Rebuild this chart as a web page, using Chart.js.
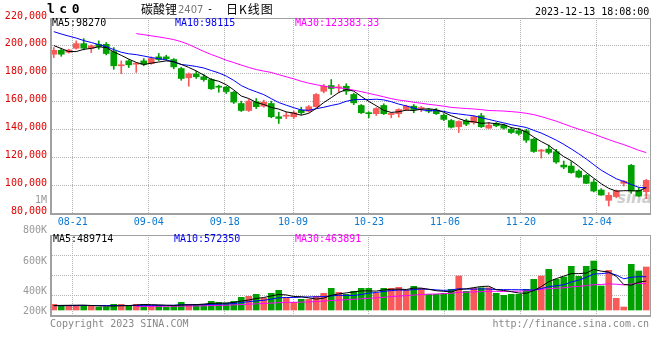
<!DOCTYPE html>
<html>
<head>
<meta charset="utf-8">
<script src="https://cdn.jsdelivr.net/npm/chart.js@4.4.0/dist/chart.umd.min.js"></script>
<style>
body { margin: 0; background: #fff; }
#wrap { position: relative; width: 660px; height: 360px; overflow: hidden; font-family: "DejaVu Sans Mono", monospace; font-size: 10px; }
canvas { position: absolute; left: 0; top: 0; }
.t { position: absolute; white-space: pre; line-height: 12px; }
.cjk { font-family: "Noto Sans CJK SC", sans-serif; font-size: 12px; line-height: 14px; }
.gray { color: #999; }
</style>
</head>
<body>
<div id="wrap">
  <div class="t" style="left:617px;top:189px;font:italic bold 15px 'DejaVu Sans',sans-serif;color:#cfcfcf">sina</div>
  <canvas id="kline" width="660" height="360"></canvas>
  <canvas id="vol" width="660" height="360"></canvas>

  <div class="t" style="left:47px;top:2px;font-size:13px;font-weight:bold;letter-spacing:4.5px;line-height:14px">lc0</div>
  <div class="t cjk" style="left:141px;top:2px">碳酸锂</div>
  <div class="t" style="left:178px;top:4px;color:#777;font-family:'DejaVu Sans',sans-serif;font-size:10px">2407</div>
  <div class="t" style="left:207px;top:3px">-</div>
  <div class="t cjk" style="left:226px;top:2px;letter-spacing:1px">日K线图</div>
  <div class="t" style="left:535px;top:6px">2023-12-13 18:08:00</div>

  <div class="t" style="left:52px;top:17px">MA5:98270</div>
  <div class="t" style="left:175px;top:17px;color:#0000ee">MA10:98115</div>
  <div class="t" style="left:295px;top:17px;color:#ff00ff">MA30:123383.33</div>
  <div class="t gray" style="right:613px;top:194px">1M</div>

  <div class="t gray" style="right:613px;top:224px">800K</div>
  <div class="t gray" style="right:613px;top:255px">600K</div>
  <div class="t gray" style="right:613px;top:285px">400K</div>
  <div class="t gray" style="right:613px;top:305px">200K</div>
  <div class="t" style="left:53px;top:233px">MA5:489714</div>
  <div class="t" style="left:174px;top:233px;color:#0000ee">MA10:572350</div>
  <div class="t" style="left:295px;top:233px;color:#ff00ff">MA30:463891</div>

  <div class="t" style="left:50px;top:318px;color:#888">Copyright 2023 SINA.COM</div>
  <div class="t" style="right:11px;top:318px;color:#888">http://finance.sina.com.cn</div>
</div>

<script>
const dates = [
  "08-16","08-17","08-18","08-21","08-22","08-23","08-24","08-25","08-28","08-29",
  "08-30","08-31","09-01","09-04","09-05","09-06","09-07","09-08","09-11","09-12",
  "09-13","09-14","09-15","09-18","09-19","09-20","09-21","09-22","09-25","09-26",
  "09-27","09-28","10-09","10-10","10-11","10-12","10-13","10-16","10-17","10-18",
  "10-19","10-20","10-23","10-24","10-25","10-26","10-27","10-30","10-31","11-01",
  "11-02","11-03","11-06","11-07","11-08","11-09","11-10","11-13","11-14","11-15",
  "11-16","11-17","11-20","11-21","11-22","11-23","11-24","11-27","11-28","11-29",
  "11-30","12-01","12-04","12-05","12-06","12-07","12-08","12-11","12-12","12-13"
];
const tickDates = ["08-21","09-04","09-18","10-09","10-23","11-06","11-20","12-04"];
const priceTicks = [80000, 220000, 20000];   // min, max, step
const volGrid = [350000, 550000, 750000];

const open = [
  194000,196800,195400,198300,201600,198300,201100,201100,195900,185700,
  189200,186800,189200,187300,192100,192100,190200,183700,177100,179900,
  177800,175800,171000,170300,166700,158600,153600,159900,156700,158600,
  149100,149500,149100,153800,153100,156300,167400,171500,169900,171000,
  165100,157200,152000,151300,157200,150700,151300,154300,156700,155000,
  154100,153800,150200,146400,141900,146200,145000,149800,140900,144300,
  143100,140200,139100,139100,133000,124400,125900,124000,114400,113700,
  110100,107000,102200,96500,89100,91800,101300,114200,96300,95300
];
const high = [
  198800,198300,197600,203600,205200,200700,203600,202400,198800,189200,
  190000,188000,190900,192100,194500,193300,190900,184700,180600,181800,
  179400,176600,171800,171000,167400,160300,161500,162200,161000,160300,
  152400,152400,153100,156000,157200,165800,172300,175800,172300,172800,
  166000,157900,152700,155700,158400,152000,154800,157400,157900,156500,
  155000,155000,151300,147200,146200,147400,149800,151500,145000,145000,
  143800,141400,140900,140200,133500,125700,128700,125700,117300,116800,
  111000,107700,104200,97500,94600,96500,103400,114900,98200,104200
];
const low = [
  191600,192500,194800,197600,197100,195200,197600,193500,183200,180100,
  184400,180900,185700,186800,189500,189700,183500,175300,171000,176600,
  174600,168700,166700,165800,158600,152900,152900,155000,156000,148400,
  144300,147700,147700,150700,152400,155900,166300,165100,166300,165100,
  157800,151300,148400,150000,150700,148400,148800,153600,152000,152700,
  152000,150700,146400,141000,137800,142700,143800,141400,140700,141900,
  140200,137100,135900,130700,123500,119400,122300,115600,111800,108500,
  105300,101100,95100,92700,85000,90900,99400,94100,91800,90300
];
const close = [
  196800,194000,197000,201600,198300,200000,199500,194500,185700,186400,
  186400,187500,186800,190900,190200,190700,184900,176600,179900,177800,
  175800,169200,170300,167200,159600,153600,160300,156300,159600,149100,
  147900,150000,152000,152000,156300,165100,171000,169400,170600,167500,
  159100,152000,151300,155000,151300,151500,154300,156700,154300,155600,
  153100,151300,147200,141600,145700,143800,149100,141900,143100,142600,
  140900,137800,137100,132300,124200,125200,123500,116600,113000,109000,
  105800,101300,95800,92900,92700,95800,102700,95800,92200,103400
];
const ma5 = [
  200200,198100,195900,195900,197500,198200,199300,198800,195600,193200,
  190500,188100,186600,187600,188400,189200,188700,186700,184500,182000,
  179000,175900,174600,172100,168400,164000,162200,159400,157900,155800,
  154600,152600,151700,150200,151600,155100,159300,162800,166500,168700,
  167500,163700,160100,157000,153700,152200,152700,153800,153600,154500,
  154800,154200,152300,149800,147800,145900,145500,144400,144700,144100,
  143500,141300,140300,138100,134500,131300,128500,124400,120500,117500,
  113600,109100,105000,101000,97700,95700,96000,96000,95800,98270
];
const ma10 = [
  210200,208500,207000,205600,203800,202400,200900,199500,197300,195400,
  194300,193700,192700,191600,190800,189900,188400,186600,186000,185200,
  184100,182300,180600,178300,175200,171500,169000,167000,165000,162100,
  159300,157400,155600,154000,153700,154900,155900,157200,158300,160200,
  161300,161500,161400,161700,161200,159900,158200,156900,155300,154100,
  153500,153400,153000,151700,151100,150400,149800,148400,147200,145900,
  144700,143400,142400,141400,139300,137400,134900,132300,129300,126000,
  122500,118800,114700,110700,107600,104600,102600,100500,98400,98115
];
const ma30 = [
  null,null,null,null,null,null,null,null,null,null,
  null,208800,208000,207200,206400,205500,204500,203000,201000,198500,
  196000,193800,191800,189700,188000,186200,184500,183000,181900,180900,
  179300,177800,176300,174600,173200,172100,171100,170300,169800,169200,
  168200,167100,165900,164700,163400,162100,161100,160400,159500,158800,
  158000,157400,156700,155800,155400,155000,154700,154200,153600,153400,
  153200,152800,152300,151600,150600,149200,147600,145900,144000,142000,
  140200,138500,136700,134600,132700,130800,129100,127100,125000,123383
];

const volume = [
  257000,247000,247000,247000,247000,237000,230000,230000,257000,257000,
  247000,257000,257000,247000,247000,230000,247000,277000,257000,257000,
  257000,287000,277000,270000,287000,327000,337000,357000,317000,367000,
  397000,317000,277000,307000,307000,337000,367000,417000,377000,357000,
  387000,417000,417000,367000,417000,417000,427000,397000,437000,417000,
  357000,357000,367000,407000,540000,387000,417000,423000,423000,367000,
  347000,357000,357000,407000,507000,540000,607000,507000,530000,637000,
  537000,637000,690000,440000,597000,317000,230000,657000,590000,630000
];
const volMa5 = [
  245000,246000,247000,248000,249000,245000,241600,238200,240200,242200,
  244200,249600,255000,253000,251000,247600,245600,249600,251600,253600,
  259000,267000,267000,269600,275600,289600,299600,315600,325000,341000,
  355000,351000,335000,333000,321000,309000,319000,347000,361000,371000,
  381000,391000,391000,389000,401000,407000,409000,405000,419000,419000,
  407000,393000,387000,381000,405600,411600,423600,434800,438000,403400,
  395400,383400,370200,367000,395000,433600,483600,513600,538200,564200,
  563600,569600,606200,588200,580200,536200,454800,448200,478200,489714
];
const volMa10 = [
  243000,243000,244000,244000,245000,245000,245000,245000,245000,245600,
  244600,245600,246600,246600,246600,245900,247600,252300,252300,252300,
  253300,256300,258300,260600,264600,274300,283300,291300,297300,308300,
  322300,325300,325300,329000,331000,332000,335000,341000,347000,346000,
  345000,355000,369000,375000,386000,394000,400000,398000,404000,410000,
  407000,401000,396000,400000,412300,409300,408300,410900,409500,404500,
  403500,403500,402500,402500,399200,414500,433500,441900,452600,479600,
  498600,526600,559900,563200,572200,549900,512200,527200,533200,532500
];
const volMa30 = [
  null,null,null,null,null,null,null,null,null,null,
  null,236000,236000,237000,237000,238000,238000,239000,240000,241000,
  242000,244000,246000,248000,251000,254000,258000,262000,265000,268700,
  273400,275700,276700,278700,280700,284100,288600,294900,298900,302200,
  306900,312200,317500,321500,327200,333400,339400,343400,349400,354800,
  358100,360400,363400,368000,376400,378400,381100,383300,386800,386800,
  385200,386500,389200,392500,399200,405900,413900,416900,422000,431400,
  436400,443700,452800,455200,461200,457900,451300,460000,465100,463891
];

const RED = "#f85a5a", GREEN = "#00a000", GRID = "#b2b2b2", AXIS = "#a0a0a0";
const idx = dates.map((d, i) => i);
const colors = idx.map(i => close[i] >= open[i] ? RED : GREEN);
const n = dates.length;

Chart.defaults.font.family = "'DejaVu Sans Mono', monospace";
Chart.defaults.font.size = 10;

// sina places the date grid on a slightly wider step than the candles
function dateTicks(s) {
  s.ticks = tickDates.map(d => ({ value: dates.indexOf(d) * n / (n - 1) - 0.5 }));
}

const frame = {
  id: "frame",
  afterDatasetsDraw(chart) {
    const { ctx, chartArea: a } = chart;
    ctx.save();
    ctx.strokeStyle = AXIS;
    ctx.lineWidth = 1;
    ctx.strokeRect(a.left + 0.5, a.top + 0.5, a.right - a.left, a.bottom - a.top);
    ctx.lineWidth = 2;
    ctx.beginPath();
    ctx.moveTo(a.left + 1, a.top);
    ctx.lineTo(a.left + 1, a.bottom + 1);
    ctx.lineTo(a.right + 1, a.bottom + 1);
    ctx.stroke();
    ctx.restore();
  }
};

function line(data, color) {
  return {
    type: "line",
    data: data.map((v, i) => ({ x: i, y: v })),
    borderColor: color,
    borderWidth: 1,
    pointRadius: 0,
    tension: 0,
    spanGaps: false
  };
}

function xScale(showLabels) {
  return {
    type: "linear",
    min: -0.5,
    max: n - 0.5,
    offset: false,
    afterBuildTicks: dateTicks,
    afterFit: s => { s.height = showLabels ? 18 : 0; },
    ticks: {
      display: showLabels,
      autoSkip: false,
      maxRotation: 0,
      padding: 3,
      color: "#0a78d2",
      callback: (v, k) => tickDates[k]
    },
    grid: { color: GRID, drawTicks: false, offset: false },
    border: { display: false, dash: [1, 1] }
  };
}

new Chart(document.getElementById("kline"), {
  type: "bar",
  data: {
    datasets: [
      line(ma5, "#000000"),
      line(ma10, "#0000ff"),
      line(ma30, "#ff00ff"),
      {
        data: idx.map(i => ({ x: i, y: [open[i], close[i]] })),
        backgroundColor: colors,
        barThickness: 6,
        minBarLength: 1,
        grouped: false
      },
      {
        data: idx.map(i => ({ x: i, y: [low[i], high[i]] })),
        backgroundColor: colors,
        barThickness: 1,
        grouped: false
      }
    ]
  },
  options: {
    responsive: false,
    animation: false,
    devicePixelRatio: 1,
    layout: { padding: { left: 0, right: 10, top: 18, bottom: 129 } },
    plugins: { legend: { display: false }, tooltip: { enabled: false } },
    scales: {
      x: xScale(true),
      y: {
        min: priceTicks[0],
        max: priceTicks[1],
        afterFit: s => { s.width = 50; },
        ticks: { stepSize: priceTicks[2], color: "#e00000", padding: 3, labelOffset: -2 },
        grid: {
          drawTicks: false,
          color: c => (c.tick.value > priceTicks[0] && c.tick.value < priceTicks[1]) ? GRID : "rgba(0,0,0,0)"
        },
        border: { display: false, dash: [1, 1] }
      }
    }
  },
  plugins: [frame]
});

new Chart(document.getElementById("vol"), {
  type: "bar",
  data: {
    datasets: [
      line(volMa5, "#000000"),
      line(volMa10, "#0000ff"),
      line(volMa30, "#ff00ff"),
      {
        data: idx.map(i => ({ x: i, y: volume[i] })),
        backgroundColor: colors,
        barThickness: 6,
        base: 200000,
        grouped: false
      }
    ]
  },
  options: {
    responsive: false,
    animation: false,
    devicePixelRatio: 1,
    layout: { padding: { left: 0, right: 10, top: 235, bottom: 45 } },
    plugins: { legend: { display: false }, tooltip: { enabled: false } },
    scales: {
      x: xScale(false),
      y: {
        min: 150000,
        max: 950000,
        afterFit: s => { s.width = 50; },
        afterBuildTicks: s => { s.ticks = volGrid.map(v => ({ value: v })); },
        ticks: { display: false },
        grid: { color: GRID, drawTicks: false },
        border: { display: false, dash: [1, 1] }
      }
    }
  },
  plugins: [frame]
});
</script>
</body>
</html>
